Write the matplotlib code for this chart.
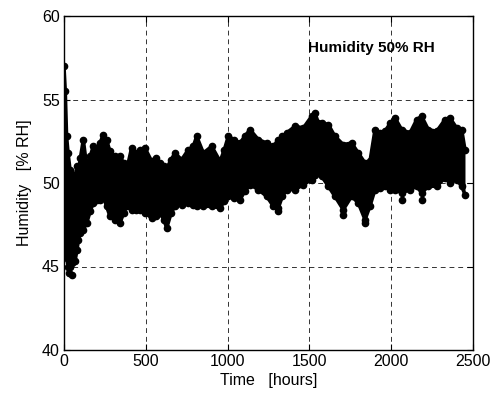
import matplotlib
matplotlib.use("Agg")
import matplotlib.pyplot as plt

plt.rcParams['font.family'] = ['Liberation Sans', 'DejaVu Sans']

# Envelope of the dense humidity record
hours = [0, 8, 16, 25, 37, 47, 55, 67, 80, 88, 100, 118, 139, 160, 179, 200, 220,
         240, 260, 281, 310, 342, 365, 383, 413, 440, 465, 495, 536, 560, 587, 610,
         628, 655, 678, 719, 760, 790, 811, 852, 903, 954, 980, 1004, 1040, 1076,
         1105, 1137, 1188, 1239, 1280, 1310, 1335, 1361, 1412, 1463, 1514, 1534,
         1555, 1575, 1616, 1656, 1707, 1758, 1799, 1840, 1870, 1901, 1930, 1962,
         1995, 2023, 2064, 2115, 2156, 2186, 2227, 2278, 2329, 2359, 2400, 2431, 2451]
upper = [57.0, 55.5, 52.8, 51.8, 50.8, 50.5, 50.4, 50.4, 51.0, 50.6, 51.5, 52.6, 51.0,
         51.6, 52.2, 52.0, 52.4, 52.9, 52.6, 51.9, 51.6, 51.6, 51.2, 50.8, 52.1, 51.8,
         52.0, 52.1, 51.3, 51.5, 51.2, 51.0, 50.9, 51.4, 51.8, 51.4, 52.0, 52.2, 52.8,
         51.8, 52.2, 51.3, 52.0, 52.8, 52.6, 52.4, 52.8, 53.2, 52.6, 52.4, 52.2, 52.6,
         52.8, 53.0, 53.4, 53.3, 54.0, 54.2, 53.6, 53.6, 53.5, 52.8, 52.3, 52.4, 51.8,
         51.2, 51.3, 53.2, 53.0, 53.1, 53.6, 53.9, 53.2, 53.0, 53.8, 54.0, 53.2, 53.1,
         53.8, 53.9, 53.3, 53.2, 52.0]
lower = [46.5, 47.0, 45.5, 45.0, 45.0, 45.2, 45.3, 45.3, 46.0, 46.6, 47.0, 47.2, 47.6,
         48.3, 48.8, 49.0, 49.0, 49.2, 48.6, 48.0, 47.8, 47.6, 48.2, 48.6, 48.4, 48.4,
         48.4, 48.2, 47.9, 48.0, 48.2, 47.8, 47.3, 48.2, 48.6, 48.7, 48.8, 48.7, 48.6,
         48.6, 48.6, 48.5, 48.9, 49.2, 49.1, 49.0, 49.5, 49.9, 49.6, 49.2, 48.6, 48.5,
         49.2, 49.6, 49.6, 49.9, 50.2, 50.5, 50.8, 50.4, 49.8, 49.2, 48.4, 49.2, 48.8,
         47.8, 48.6, 49.6, 49.7, 49.8, 49.6, 49.6, 49.4, 49.6, 49.8, 49.4, 49.8, 49.8,
         50.3, 50.0, 50.2, 49.8, 49.3]
# isolated outlying readings
out_hours = [30, 47, 1310, 1707, 1840, 2064, 2186]
out_vals = [44.6, 44.5, 48.3, 48.1, 47.6, 49.0, 49.0]

xticks = [0, 500, 1000, 1500, 2000, 2500]
yticks = [40, 45, 50, 55, 60]

fig = plt.figure(figsize=(4.93, 3.96), dpi=100)
ax = fig.add_axes([64/493, 1-350/396, 409/493, 334/396])

ax.fill_between(hours, lower, upper, color='black', lw=0, zorder=3)
ax.plot(hours, upper, color='black', lw=2.5, marker='o', ms=4.5, zorder=4,
        solid_joinstyle='round')
ax.plot(hours, lower, color='black', lw=2.5, marker='o', ms=4.5, zorder=4,
        solid_joinstyle='round')
ax.plot(out_hours, out_vals, ls='none', color='black', marker='o', ms=4.5, zorder=4)

ax.set_xlim(0, 2500)
ax.set_ylim(40, 60)
ax.set_xticks(xticks)
ax.set_yticks(yticks)
ax.tick_params(direction='in', length=4, width=0.8, labelsize=11.5, pad=3,
               top=True, right=True, colors='black')
ax.grid(True, color='black', ls=(0, (5, 4)), lw=0.7, alpha=0.8, zorder=1)
for s in ax.spines.values():
    s.set_linewidth(1.0)
    s.set_zorder(5)

ax.set_xlabel('Time   [hours]', fontsize=11.5, labelpad=3)
ax.set_ylabel('Humidity   [% RH]', fontsize=11.5, labelpad=7)
ax.text(1490, 58.1, 'Humidity 50% RH', fontsize=11, fontweight='bold',
        ha='left', va='center', zorder=6)

fig.savefig('out.png', dpi=100)
